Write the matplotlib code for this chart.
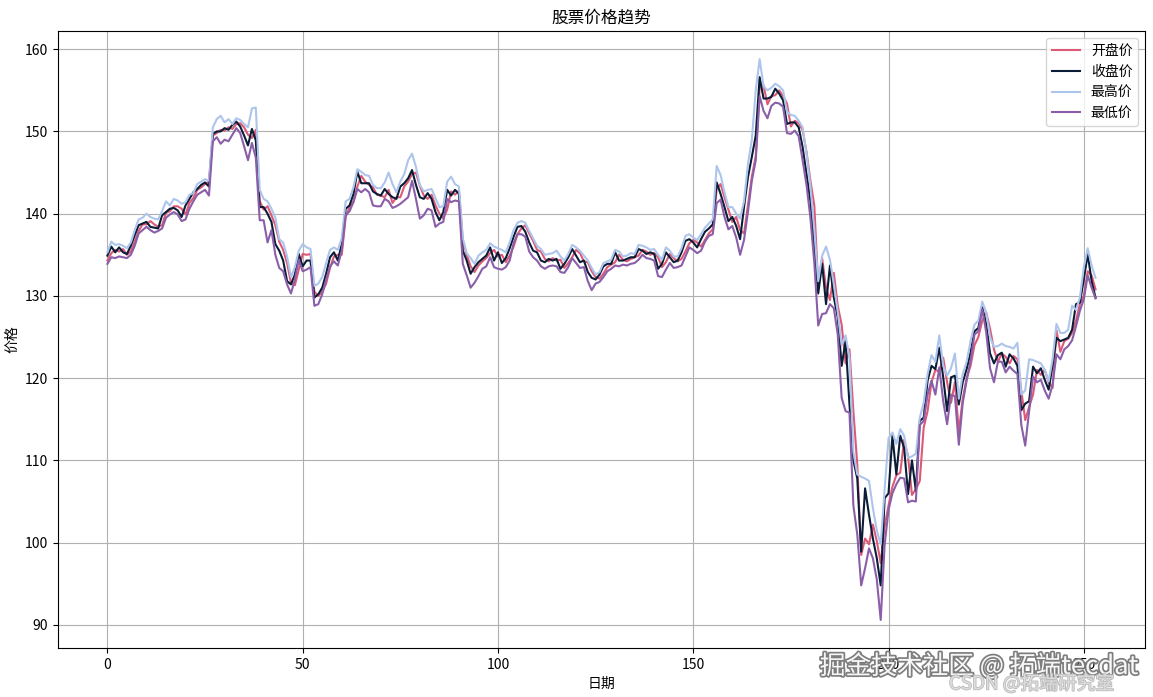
import matplotlib
matplotlib.use("Agg")
import matplotlib.pyplot as plt
import matplotlib.patheffects as pe

plt.rcParams['font.family'] = ['Noto Sans CJK SC', 'DejaVu Sans']
plt.rcParams['axes.unicode_minus'] = False

close = [134.9, 136.0, 135.3, 135.9, 135.3, 135.1, 136.1, 137.4, 138.6, 138.8,
         139.0, 138.4, 138.3, 138.2, 139.8, 140.2, 140.6, 140.7, 140.4, 139.6,
         141.0, 141.8, 142.6, 143.0, 143.5, 143.8, 143.3, 149.7, 150.0, 150.0,
         150.4, 150.2, 150.8, 151.2, 150.6, 149.5, 148.3, 150.3, 148.9, 140.8,
         140.8, 140.0, 139.0, 136.3, 135.5, 134.3, 131.8, 131.4, 132.6, 135.1,
         133.6, 134.3, 134.3, 129.8, 130.2, 131.0, 132.7, 134.7, 135.3, 134.3,
         136.3, 140.6, 141.0, 142.4, 145.1, 143.7, 143.7, 143.7, 142.7, 142.4,
         142.2, 143.0, 142.4, 142.0, 141.8, 143.3, 143.7, 144.3, 145.3, 143.5,
         142.0, 141.8, 142.5, 141.8, 140.2, 139.2, 140.2, 142.9, 142.2, 142.9,
         142.4, 135.5, 134.3, 132.7, 133.5, 134.1, 134.5, 134.9, 135.9, 134.3,
         135.3, 134.0, 134.6, 135.8, 137.2, 138.4, 138.5, 137.8, 136.5, 135.5,
         135.3, 134.3, 134.1, 134.5, 134.3, 134.5, 133.3, 133.9, 134.7, 135.7,
         134.9, 134.1, 134.3, 132.9, 132.2, 132.0, 132.6, 133.6, 133.9, 133.9,
         135.3, 134.3, 134.3, 134.5, 134.7, 134.7, 135.7, 135.5, 135.1, 135.3,
         135.1, 133.3, 133.9, 135.3, 134.7, 134.1, 134.3, 135.3, 136.7, 136.9,
         136.5, 135.9, 136.9, 137.8, 138.2, 138.7, 143.8, 142.4, 140.8, 139.1,
         139.6, 138.5, 136.9, 140.8, 144.4, 146.9, 149.5, 156.6, 154.0, 154.0,
         154.2, 155.2, 154.6, 153.8, 150.9, 151.1, 151.1, 150.5, 148.1, 144.8,
         141.5, 136.0, 130.3, 133.9, 129.0, 133.7, 129.8, 127.4, 121.5, 124.5,
         116.8, 110.0, 107.8, 98.9, 106.6, 103.4, 100.5, 98.1, 94.8, 105.4,
         106.0, 113.0, 108.3, 113.0, 111.5, 105.9, 110.0, 106.3, 114.8, 115.2,
         119.7, 121.5, 121.1, 123.7, 120.1, 116.0, 120.1, 120.3, 116.8, 119.5,
         121.1, 123.1, 125.7, 126.1, 128.6, 126.6, 123.0, 121.8, 122.8, 123.1,
         121.4, 122.9, 122.4, 121.5, 116.1, 116.9, 117.2, 121.4, 120.6, 121.2,
         119.8, 118.6, 121.6, 124.9, 124.5, 124.7, 124.9, 125.9, 129.0, 129.2,
         132.0, 135.1, 131.8, 129.8]

open_ = [134.3, 135.2, 135.6, 135.4, 135.7, 135.0, 135.4, 136.6, 137.9, 138.7,
         138.7, 139.1, 138.7, 138.4, 138.6, 140.1, 140.3, 140.9, 140.9, 140.6,
         139.9, 141.3, 141.9, 142.9, 143.2, 143.6, 143.9, 149.5, 149.8, 150.2,
         150.1, 150.5, 150.3, 150.9, 151.0, 150.5, 149.6, 149.2, 150.2, 141.5,
         140.5, 140.9, 139.8, 138.6, 136.6, 135.6, 134.0, 131.6, 131.3, 133.2,
         135.1, 135.0, 135.1, 130.5, 130.0, 130.5, 131.5, 133.4, 134.8, 135.0,
         135.0, 139.6, 140.8, 141.5, 143.3, 144.6, 143.9, 143.5, 143.2, 142.3,
         142.2, 142.0, 142.9, 141.3, 142.0, 142.0, 143.3, 143.9, 144.8, 145.0,
         143.4, 142.2, 141.8, 142.3, 141.0, 140.0, 139.4, 140.5, 142.7, 142.3,
         142.8, 136.8, 135.0, 133.6, 132.9, 133.7, 134.2, 134.6, 135.2, 135.6,
         134.8, 135.0, 134.1, 134.9, 136.0, 137.5, 138.2, 138.6, 137.6, 136.7,
         135.6, 135.4, 134.5, 134.2, 134.6, 134.3, 134.4, 133.4, 134.0, 134.7,
         135.6, 135.2, 134.2, 134.1, 133.0, 132.3, 132.1, 132.7, 133.5, 133.8,
         134.1, 135.0, 134.4, 134.2, 134.5, 134.7, 134.9, 135.6, 135.4, 135.0,
         135.2, 134.7, 133.5, 134.1, 135.1, 134.6, 134.2, 134.5, 135.4, 136.4,
         136.8, 136.5, 136.0, 136.8, 137.6, 138.1, 143.0, 143.6, 142.0, 140.5,
         139.0, 139.6, 138.0, 137.6, 141.0, 144.5, 147.0, 155.3, 155.6, 153.3,
         154.3, 154.4, 155.0, 154.3, 153.4, 150.6, 151.3, 151.0, 150.2, 147.5,
         144.0, 141.0, 131.2, 134.6, 131.0, 129.5, 132.8, 128.8, 126.5, 121.8,
         123.5, 116.0, 109.5, 98.5, 100.5, 99.8, 102.2, 100.2, 97.5, 102.0,
         104.5, 106.8, 108.2, 108.5, 112.5, 110.5, 105.8, 106.5, 107.5, 114.0,
         116.0, 119.5, 121.0, 120.8, 122.5, 119.5, 117.0, 119.5, 113.5, 117.5,
         120.0, 121.5, 124.0, 125.0, 127.0, 128.0, 126.0, 123.5, 122.0, 123.0,
         122.6, 121.8, 122.7, 122.3, 118.5, 114.9, 116.5, 118.0, 121.0, 120.4,
         121.0, 119.5, 118.8, 125.8, 123.2, 124.5, 124.8, 125.5, 127.0, 129.0,
         130.0, 133.0, 132.5, 130.8]

high = [135.3, 136.6, 136.2, 136.3, 136.1, 135.8, 136.5, 138.0, 139.3, 139.5,
        140.0, 139.6, 139.4, 139.3, 140.3, 141.5, 141.0, 141.8, 141.6, 141.2,
        141.4, 142.3, 142.5, 143.6, 143.9, 144.2, 144.0, 150.5, 151.5, 151.9,
        151.1, 151.5, 150.9, 151.6, 151.4, 150.9, 150.5, 152.8, 152.9, 142.9,
        141.8, 141.5, 140.6, 139.5, 136.9, 136.5, 134.8, 132.3, 133.5, 135.5,
        136.3, 135.9, 135.7, 131.2, 131.5, 132.3, 134.0, 135.6, 135.9, 135.6,
        137.0, 141.5, 141.8, 143.2, 145.4, 145.1, 144.7, 144.6, 143.5, 143.1,
        143.1, 143.8, 145.0, 143.6, 142.6, 143.9, 144.8, 146.5, 147.3, 145.7,
        143.5, 142.7, 142.9, 143.0, 141.9, 140.8, 140.9, 143.9, 144.5, 143.6,
        143.3, 137.0, 135.2, 134.6, 133.9, 134.9, 135.3, 135.6, 136.4, 136.0,
        135.8, 135.6, 135.3, 136.5, 138.0, 138.9, 139.1, 138.9, 137.9, 137.0,
        136.1, 135.7, 135.0, 135.1, 135.2, 135.5, 134.8, 134.3, 135.1, 136.2,
        135.9, 135.5, 134.9, 134.3, 133.4, 132.6, 132.9, 134.0, 134.2, 134.4,
        135.6, 135.4, 134.8, 134.9, 135.2, 135.1, 136.2, 136.1, 135.9, 135.6,
        135.7, 135.0, 134.4, 135.9, 135.5, 134.8, 134.8, 135.8, 137.3, 137.5,
        137.1, 136.8, 137.5, 138.3, 138.8, 139.3, 145.8, 144.7, 142.6, 140.8,
        140.8, 140.0, 139.4, 141.5, 146.0, 149.0, 155.0, 158.8, 155.5, 155.0,
        155.3, 155.8, 155.5, 155.0, 152.4, 152.0, 151.9, 151.3, 150.5, 147.3,
        143.3, 138.0, 131.8, 134.9, 136.0, 134.4, 131.4, 128.0, 124.0, 125.2,
        122.5, 111.0, 108.3, 108.0, 107.8, 107.5, 104.2, 101.5, 99.8, 106.5,
        112.7, 113.4, 112.0, 113.8, 113.0, 110.3, 110.5, 110.8, 115.2, 117.0,
        120.5, 122.8, 122.0, 125.2, 121.5, 120.3, 121.2, 123.0, 117.5, 120.5,
        122.0, 124.5, 126.5, 127.0, 129.3, 128.0, 125.0, 123.8, 123.9, 124.2,
        123.9, 123.8, 123.6, 124.3, 118.0, 118.5, 122.3, 122.2, 122.0, 121.8,
        121.0, 119.6, 122.3, 126.6, 125.5, 125.5, 125.9, 128.8, 128.3, 129.8,
        133.5, 135.8, 133.7, 132.2]

low = [133.9, 134.7, 134.6, 134.8, 134.7, 134.6, 135.0, 136.1, 137.6, 138.0,
       138.4, 138.0, 137.7, 137.9, 138.2, 139.5, 139.9, 140.2, 139.9, 139.1,
       139.3, 140.6, 141.5, 142.3, 142.6, 142.9, 142.2, 148.8, 149.3, 148.5,
       149.0, 148.8, 149.6, 150.4, 149.8, 148.2, 146.5, 148.6, 146.8, 139.2,
       139.2, 136.5, 138.0, 135.0, 133.4, 133.0, 131.4, 130.3, 132.0, 134.4,
       133.0, 133.2, 133.5, 128.8, 129.0, 130.2, 132.0, 133.6, 134.2, 133.7,
       135.5, 139.8, 140.3, 141.4, 143.0, 142.6, 143.0, 142.6, 141.0, 140.9,
       140.9, 141.8, 141.5, 140.7, 140.9, 141.2, 141.6, 142.0, 144.0, 141.8,
       139.4, 139.8, 140.6, 140.4, 138.4, 138.8, 139.0, 141.8, 141.4, 141.6,
       141.5, 133.9, 132.5, 131.0, 131.6, 132.4, 133.3, 133.6, 134.7, 133.5,
       133.3, 133.2, 133.5, 134.3, 136.4, 137.5, 137.5, 137.2, 135.4, 134.7,
       134.3, 133.6, 133.3, 133.6, 133.7, 133.6, 132.9, 132.8, 133.5, 134.6,
       134.0, 133.4, 133.5, 131.8, 130.7, 131.5, 131.7, 132.3, 133.0, 133.3,
       133.7, 133.6, 133.8, 133.7, 133.9, 134.0, 134.4, 135.0, 134.6, 134.5,
       134.3, 132.4, 132.3, 133.2, 134.0, 133.4, 133.5, 133.7, 134.8, 135.9,
       135.6, 135.2, 135.5, 136.6, 137.3, 137.5, 141.3, 141.7, 139.6, 138.1,
       138.5, 137.1, 135.0, 136.8, 140.2, 144.0, 146.5, 154.3, 152.5, 151.6,
       153.1, 153.5, 153.4, 153.0, 149.8, 149.7, 150.1, 149.4, 146.5, 143.5,
       139.5, 134.0, 126.4, 127.8, 127.9, 129.0, 128.5, 125.3, 117.6, 116.0,
       115.8, 104.5, 101.0, 94.8, 96.9, 99.3, 98.1, 95.5, 90.6, 99.7,
       104.0, 106.0, 107.1, 107.9, 107.8, 104.9, 105.1, 105.0, 114.3, 114.8,
       118.0, 119.7, 118.0, 121.3, 117.2, 114.4, 118.0, 117.8, 111.9, 117.0,
       119.7, 122.1, 125.3, 125.7, 128.4, 125.6, 121.2, 119.5, 122.0, 122.0,
       120.7, 121.4, 120.9, 120.5, 114.3, 111.8, 116.0, 120.2, 119.5, 119.8,
       118.5, 117.5, 119.2, 122.9, 122.3, 123.5, 123.9, 124.6, 126.3, 128.2,
       129.6, 132.5, 131.0, 129.7]

days = list(range(len(close)))

fig = plt.figure(figsize=(11.53, 6.97), dpi=100)
ax = fig.add_axes([0.0503, 0.0703, 0.9427, 0.8852])

ax.plot(days, open_, color='#dc5a78', lw=1.5, label='开盘价')
ax.plot(days, close, color='#0b1c36', lw=1.5, label='收盘价')
ax.plot(days, high, color='#adc5ec', lw=1.5, label='最高价')
ax.plot(days, low, color='#8a5ea8', lw=1.5, label='最低价')

ax.set_title('股票价格趋势', fontsize=12)
ax.set_xlabel('日期', fontsize=10)
ax.set_ylabel('价格', fontsize=10)
ax.grid(True)
ax.legend(loc='upper right')

fig.text(0.711, 0.033, '掘金技术社区 @ 拓端tecdat', fontsize=18.5, color='white',
         alpha=0.95, path_effects=[pe.withStroke(linewidth=2.5, foreground='#777777')])
fig.text(0.823, 0.011, 'CSDN @拓端研究室', fontsize=13.5, color='#dddddd',
         path_effects=[pe.withStroke(linewidth=1.2, foreground='#bbbbbb')])

fig.savefig('out.png', dpi=100)
